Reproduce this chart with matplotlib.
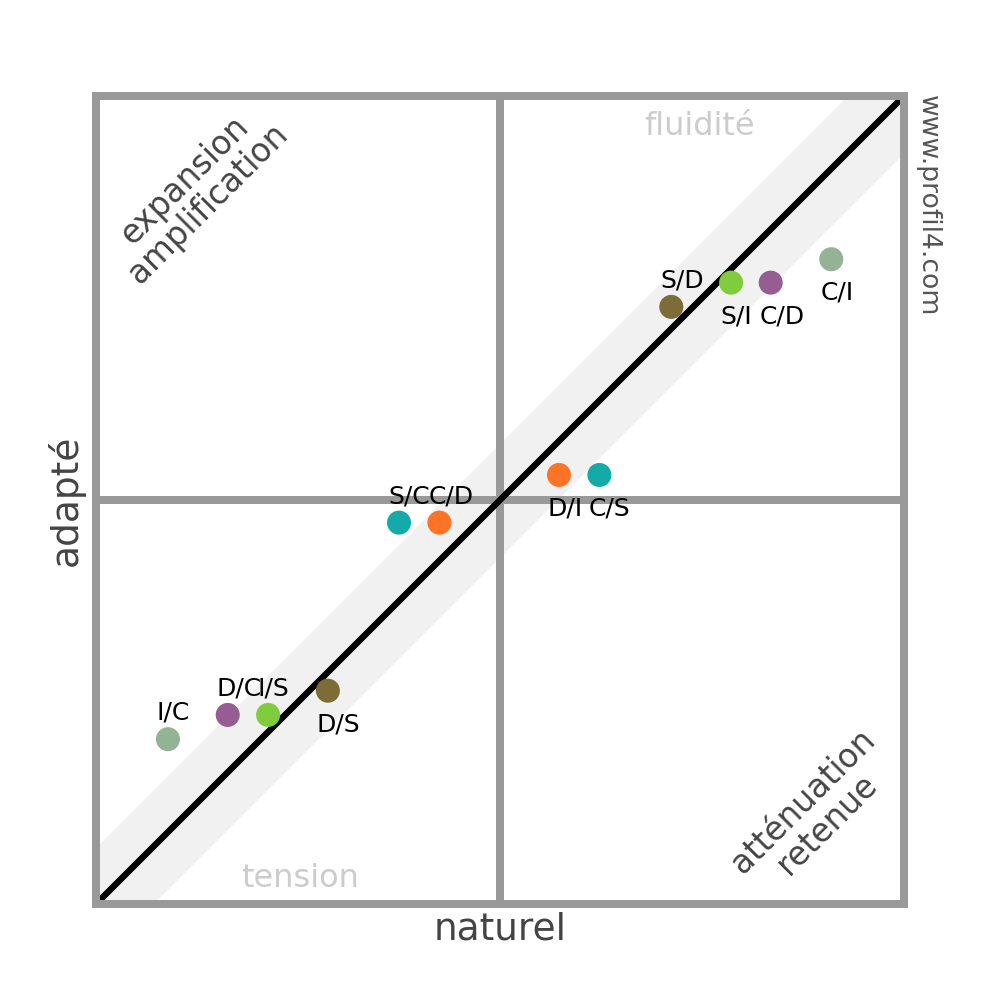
import matplotlib
matplotlib.use('Agg')
import matplotlib.pyplot as plt
import numpy as np

# ---- data ----
labels = ["S/D", "S/I", "C/D", "C/I", "D/I", "C/S", "S/C", "C/D", "D/C", "I/S", "D/S", "I/C"]
naturel = [21.2, 28.6, 33.5, 41.0, 7.3, 12.3, -12.5, -7.5, -33.7, -28.7, -21.3, -41.1]
adapte = [23.9, 26.9, 26.9, 29.8, 3.1, 3.1, -2.8, -2.8, -26.6, -26.6, -23.6, -29.6]
colors = ['#7b6c38', '#7fcc3c', '#965d92', '#93b394', '#ff7326', '#14aaa8',
          '#14aaa8', '#ff7326', '#965d92', '#7fcc3c', '#7b6c38', '#93b394']
label_pos = ['above', 'below', 'below', 'below', 'below', 'below',
             'above', 'above', 'above', 'above', 'below', 'above']
band_half = 7.05
lim = (-50, 50)

fig = plt.figure(figsize=(10, 10), dpi=100)
ax = fig.add_axes([0.096, 0.096, 0.808, 0.808])
ax.set_xlim(*lim)
ax.set_ylim(*lim)

grey = '#999999'
lw_frame = 8 * 72 / 100.0

xs = np.array(lim)
ax.fill_between(xs, xs - band_half, xs + band_half, color='#f1f1f1', zorder=1, lw=0)
ax.axvline(0, color=grey, lw=lw_frame, zorder=2)
ax.axhline(0, color=grey, lw=lw_frame, zorder=2)
ax.plot(xs, xs, color='black', lw=4.6, zorder=3, solid_capstyle='butt')

for sp in ax.spines.values():
    sp.set_linewidth(lw_frame)
    sp.set_color(grey)
    sp.set_zorder(5)
ax.set_xticks([])
ax.set_yticks([])

ax.scatter(naturel, adapte, s=17.3 ** 2, c=colors, zorder=4, linewidths=0)
for lab, x, y, pos in zip(labels, naturel, adapte, label_pos):
    dy = 19.5 if pos == 'above' else -40.5
    ax.annotate(lab, (x, y), xytext=(-11, dy), textcoords='offset pixels',
                ha='left', va='baseline', fontsize=18, color='black', zorder=6)

dark = '#444444'
light = '#cccccc'
fig.text(0.5, 1 - 0.939, "naturel", ha='center', va='baseline', fontsize=27, color=dark)
fig.text(0.066, 0.5, "adapté", ha='center', va='center', rotation=90, fontsize=27, color=dark)
fig.text(0.700, 1 - 0.135, "fluidité", ha='center', va='baseline', fontsize=23, color=light)
fig.text(0.300, 1 - 0.887, "tension", ha='center', va='baseline', fontsize=23, color=light)
fig.text(0.196, 1 - 0.192, "expansion\namplification", ha='center', va='center',
         rotation=45, rotation_mode='anchor', linespacing=1.0, fontsize=23.5, color=dark,
         multialignment='center')
fig.text(0.815, 1 - 0.813, "atténuation\nretenue", ha='center', va='center',
         rotation=45, rotation_mode='anchor', linespacing=1.0, fontsize=23.5, color=dark,
         multialignment='center')
fig.text(0.928, 1 - 0.095, "www.profil4.com", ha='center', va='top', rotation=-90,
         fontsize=19.2, color='#555555')

fig.savefig('out.png', dpi=100, facecolor='white')
